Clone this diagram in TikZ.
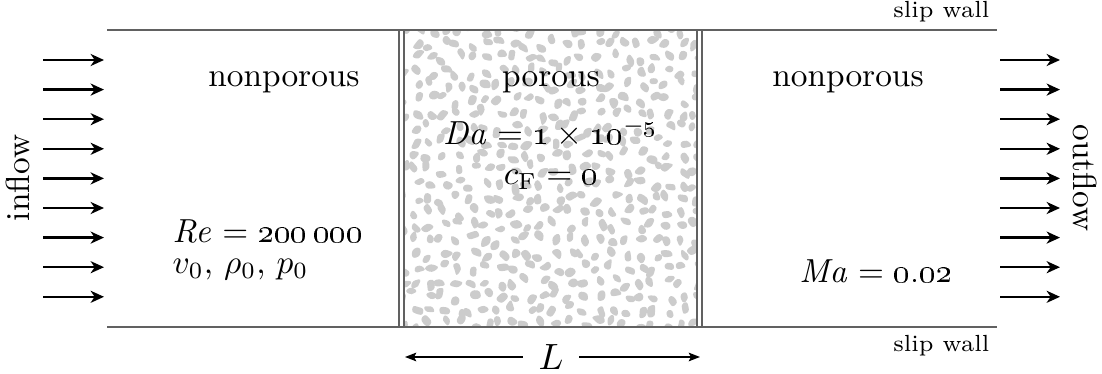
\documentclass[tikz,border=0pt]{standalone}
\usepackage{amsmath}
\usetikzlibrary{arrows.meta}
\newcommand{\osn}[1]{\text{\oldstylenums{#1}}}
\begin{document}
\begin{tikzpicture}[x=0.3pt,y=-0.3pt,
  wall/.style={draw=black!62,line width=0.8pt},
  porwall/.style={draw=black!62,line width=0.5pt},
  flowarrow/.style={line width=0.75pt,-{Stealth[length=4pt,width=3.6pt,inset=1.2pt]}},
  dimarrow/.style={line width=0.45pt,-{Stealth[length=3.4pt,width=2.6pt,inset=0.7pt]}},
  blob/.style={fill=black!20,rounded corners=0.7pt},
  lbl/.style={font=\fontsize{10}{12}\selectfont,inner sep=0pt},
  small/.style={font=\fontsize{7}{8}\selectfont,inner sep=0pt}]
\useasboundingbox (0,0) rectangle (1102,374);
% porous pattern
\begin{scope}
\clip (404,31) rectangle (697,326);
\pgfmathsetseed{11}
\foreach \i in {0,...,21}{
  \foreach \j in {0,...,21}{
    \pgfmathsetmacro\cx{402+\i*14+5*rand}
    \pgfmathsetmacro\cy{30+\j*14+5*rand}
    \pgfmathsetmacro\rot{360*rnd}
    \pgfmathsetmacro\ra{5+3*rnd}
    \pgfmathsetmacro\rb{2.8+2.2*rnd}
    \pgfmathsetmacro\rc{3.5+3*rnd}
    \pgfmathsetmacro\rd{4.5+3*rnd}
    \pgfmathsetmacro\re{2.8+2.2*rnd}
    \pgfmathsetmacro\rf{3.5+3*rnd}
    \fill[blob,shift={(\cx,\cy)},rotate=\rot] (0:\ra) -- (60:\rb) -- (120:\rc) -- (180:\rd) -- (240:\re) -- (300:\rf) -- cycle;
  }
}
\end{scope}
% walls
\coordinate (tl) at (107,30);
\coordinate (tr) at (997,30);
\coordinate (bl) at (107,327);
\coordinate (br) at (997,327);
\draw[wall] (tl) -- (tr);
\draw[wall] (bl) -- (br);
\coordinate (p1t) at (399,30); \coordinate (p1b) at (399,327);
\coordinate (p2t) at (404,30); \coordinate (p2b) at (404,327);
\coordinate (p3t) at (697,30); \coordinate (p3b) at (697,327);
\coordinate (p4t) at (702,30); \coordinate (p4b) at (702,327);
\draw[porwall] (p1t) -- (p1b);
\draw[porwall] (p2t) -- (p2b);
\draw[porwall] (p3t) -- (p3b);
\draw[porwall] (p4t) -- (p4b);
% flow arrows
\foreach \k in {0,...,8}{
  \pgfmathsetmacro\yy{60+\k*29.6}
  \coordinate (ia\k) at (43,\yy);
  \coordinate (ib\k) at (104,\yy);
  \coordinate (oa\k) at (1000,\yy);
  \coordinate (ob\k) at (1060,\yy);
  \draw[flowarrow] (ia\k) -- (ib\k);
  \draw[flowarrow] (oa\k) -- (ob\k);
}
% labels
\node[lbl,rotate=90] (inflow) at (18,178) {inflow};
\node[lbl,rotate=-90] (outflow) at (1085,178) {outflow};
\node[lbl] (np1) at (284,82) {nonporous};
\node[lbl] (por) at (551,82) {porous};
\node[lbl] (da) at (551,133) {$\mathit{Da} = \osn{1}\times \osn{10}^{-\osn{5}}$};
\node[lbl] (cf) at (551,180) {$c_{\mathrm{F}} = \osn{0}$};
\node[lbl] (np2) at (848,82) {nonporous};
\node[lbl,anchor=west] (re) at (172,231) {$\mathit{Re} = \osn{200\,000}$};
\node[lbl,anchor=west] (v0) at (172,270) {$v_0$, $\rho_0$, $p_0$};
\node[lbl] (ma) at (876,271) {$\mathit{Ma} = \osn{0.02}$};
\node[small,anchor=east] (sw1) at (990,12) {slip wall};
\node[small,anchor=east] (sw2) at (990,346) {slip wall};
% length
\node[lbl,font=\fontsize{11}{12}\selectfont,inner xsep=4.5pt] (L) at (551,357) {$L$};
\coordinate (La) at (405,357);
\coordinate (Lb) at (700,357);
\draw[dimarrow] (L.west) -- (La);
\draw[dimarrow] (L.east) -- (Lb);
\end{tikzpicture}
\end{document}
